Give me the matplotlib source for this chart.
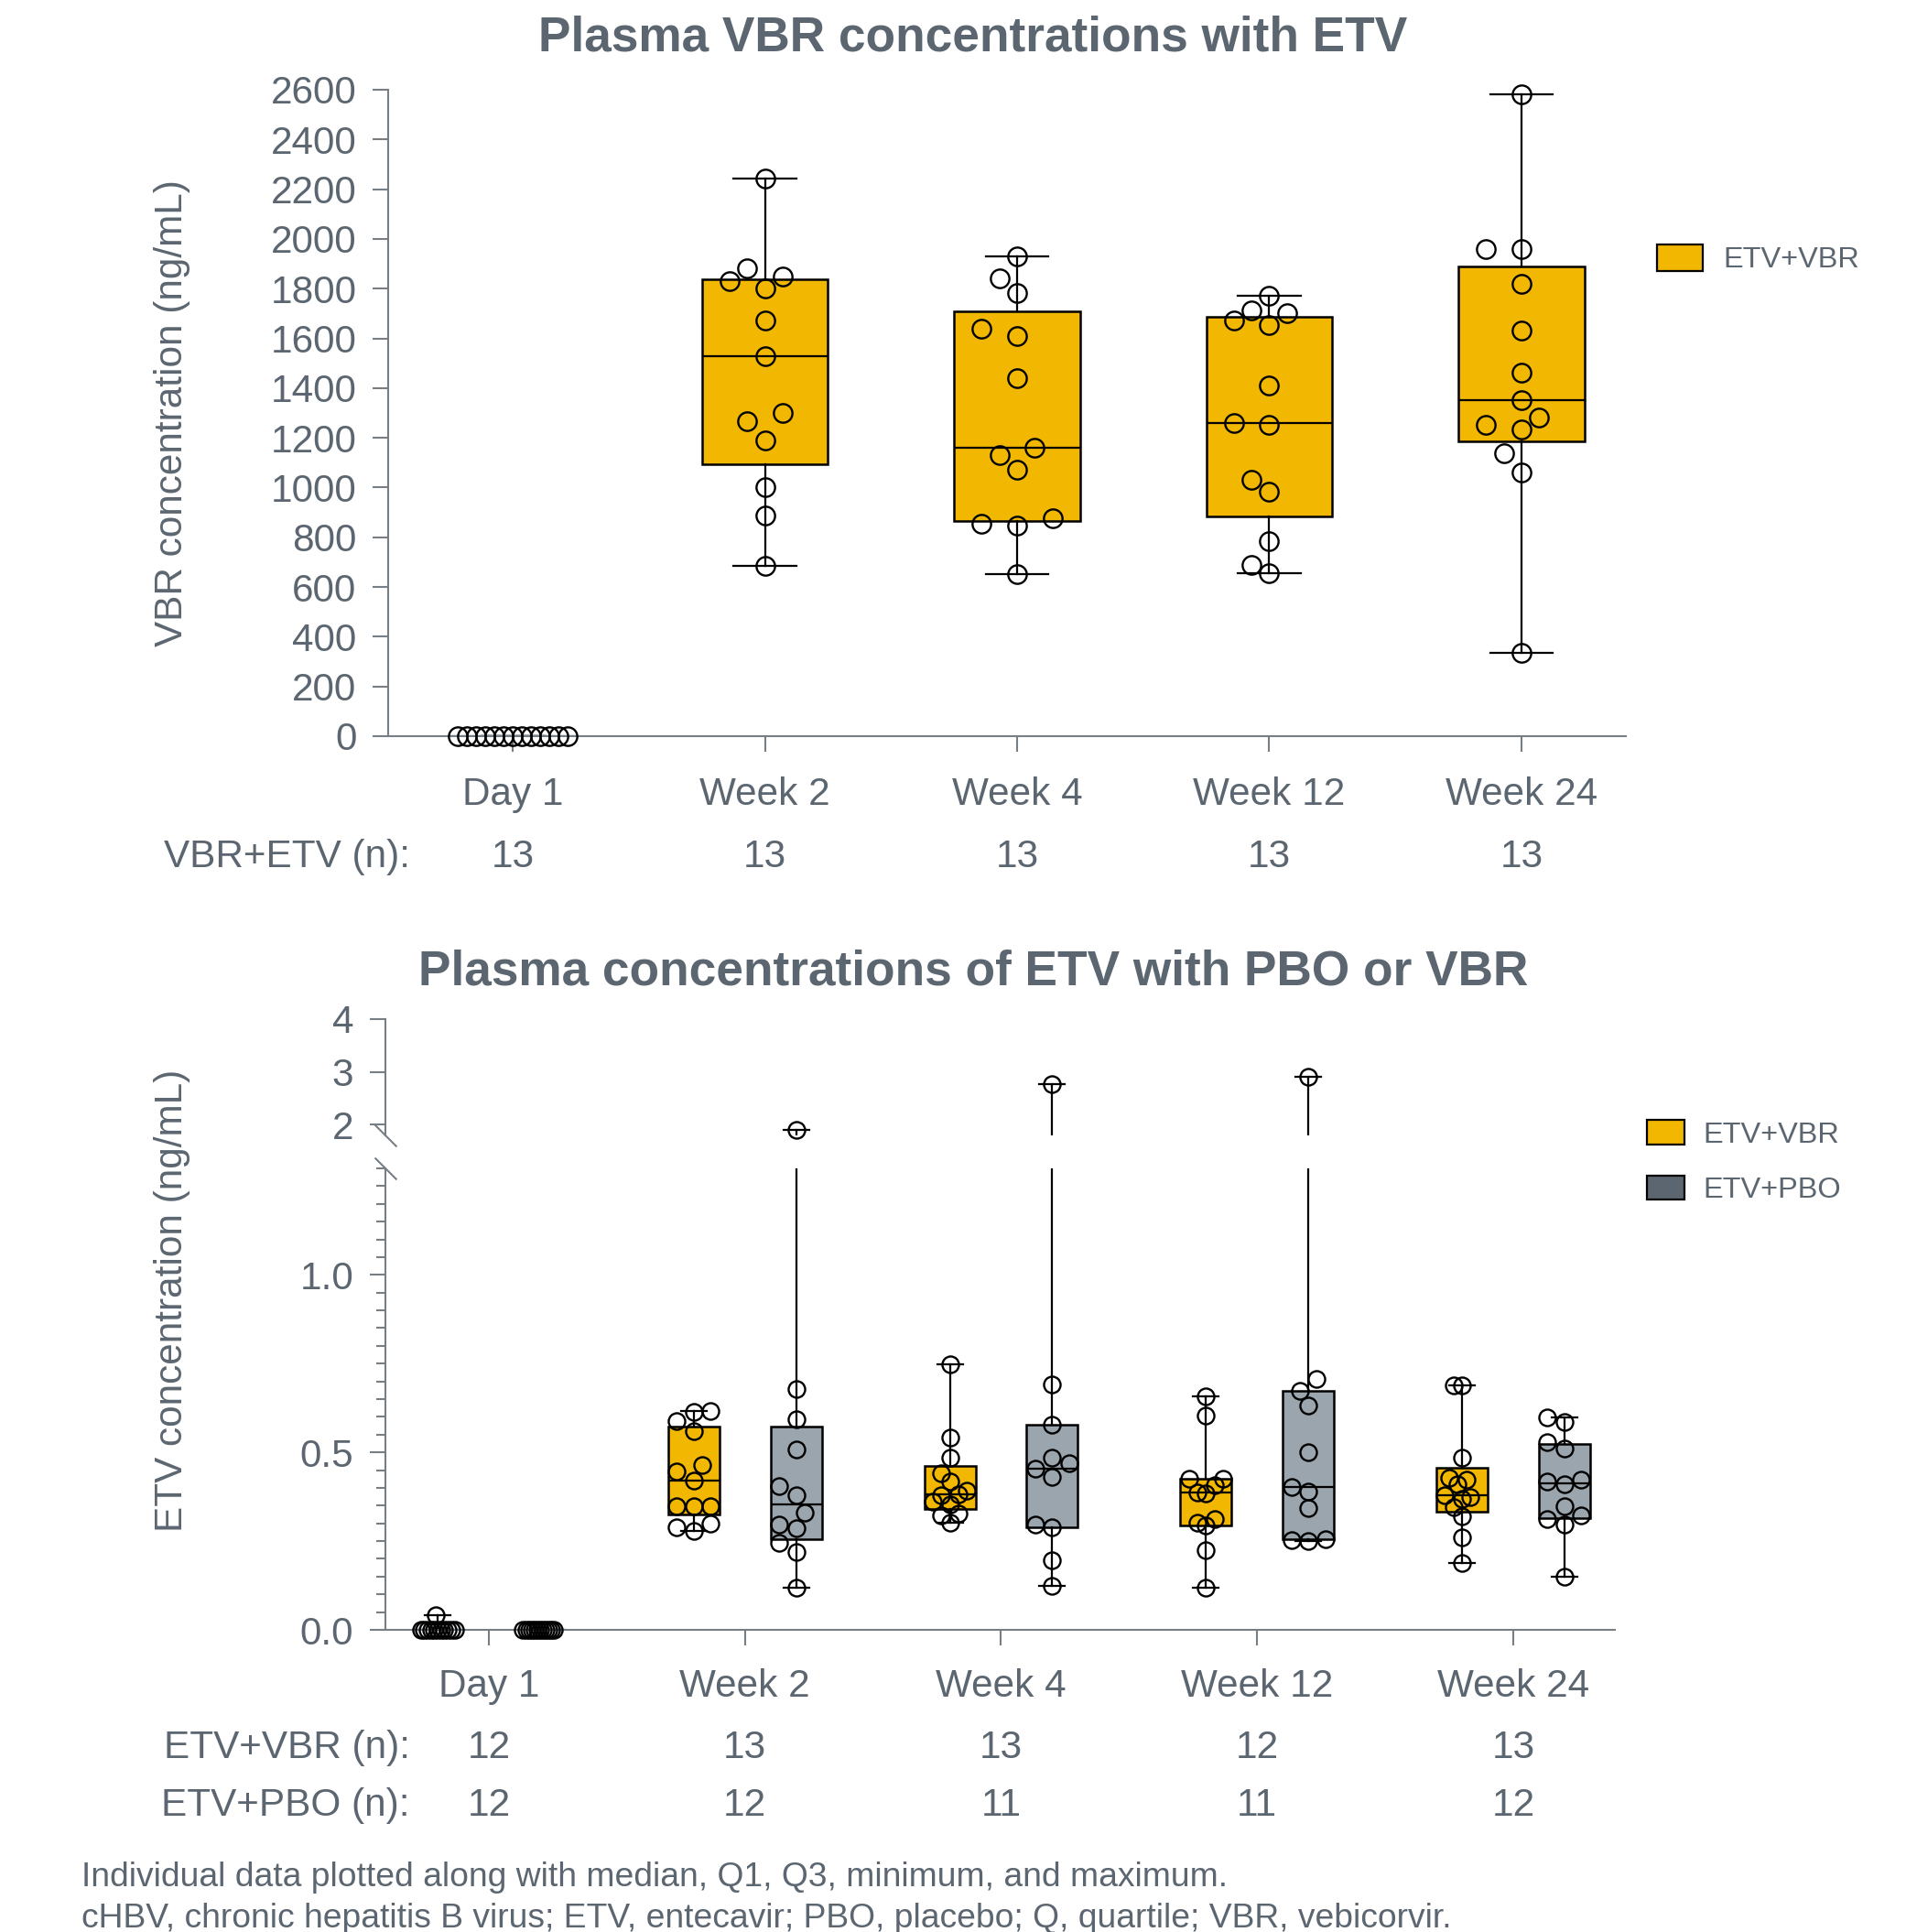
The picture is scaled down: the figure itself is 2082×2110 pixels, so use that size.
import numpy as np
import matplotlib.pyplot as plt
from matplotlib.patches import Rectangle
from matplotlib.ticker import MultipleLocator
from matplotlib.transforms import blended_transform_factory

plt.rcParams['font.family'] = ['Liberation Sans', 'DejaVu Sans']

TEXT = '#5b6670'
SPINE = '#767e86'
GOLD = '#f2b700'
GREY_BOX = '#9aa5ae'
GREY_KEY = '#5c6670'

visits = ['Day 1', 'Week 2', 'Week 4', 'Week 12', 'Week 24']

# plasma VBR (ng/mL), ETV+VBR arm
vbr_day1 = [0, 0, 0, 0, 0, 0, 0, 0, 0, 0, 0, 0, 0]
vbr_wk2 = [2241, 1882, 1849, 1830, 1800, 1671, 1530, 1299, 1268, 1189, 1000, 888, 686]
vbr_wk4 = [1931, 1841, 1781, 1640, 1611, 1441, 1161, 1131, 1072, 876, 854, 848, 651]
vbr_wk12 = [1772, 1713, 1702, 1671, 1652, 1412, 1261, 1253, 1033, 983, 786, 690, 655]
vbr_wk24 = [2582, 1960, 1960, 1821, 1632, 1463, 1353, 1282, 1251, 1233, 1139, 1062, 334]

# plasma ETV (ng/mL)
etv_vbr_day1 = [0.04, 0, 0, 0, 0, 0, 0, 0, 0, 0, 0, 0]
etv_vbr_wk2 = [0.617, 0.615, 0.588, 0.559, 0.464, 0.445, 0.420, 0.348, 0.348, 0.348, 0.300, 0.289, 0.278]
etv_vbr_wk4 = [0.748, 0.542, 0.484, 0.441, 0.417, 0.391, 0.383, 0.379, 0.361, 0.354, 0.327, 0.323, 0.303]
etv_vbr_wk12 = [0.659, 0.604, 0.426, 0.426, 0.407, 0.387, 0.385, 0.312, 0.301, 0.293, 0.224, 0.118]
etv_vbr_wk24 = [0.689, 0.688, 0.484, 0.428, 0.424, 0.410, 0.379, 0.373, 0.368, 0.346, 0.320, 0.260, 0.189]

etv_pbo_day1 = [0, 0, 0, 0, 0, 0, 0, 0, 0, 0, 0, 0]
etv_pbo_wk2 = [1.905, 0.678, 0.593, 0.507, 0.404, 0.379, 0.330, 0.297, 0.286, 0.244, 0.220, 0.119]
etv_pbo_wk4 = [2.765, 0.692, 0.579, 0.486, 0.470, 0.453, 0.432, 0.297, 0.288, 0.196, 0.123]
etv_pbo_wk12 = [2.916, 0.707, 0.674, 0.632, 0.501, 0.403, 0.390, 0.342, 0.256, 0.254, 0.250]
etv_pbo_wk24 = [0.598, 0.585, 0.529, 0.512, 0.423, 0.417, 0.410, 0.347, 0.323, 0.312, 0.297, 0.149]

vbr_groups = [vbr_day1, vbr_wk2, vbr_wk4, vbr_wk12, vbr_wk24]
etv_vbr_groups = [etv_vbr_day1, etv_vbr_wk2, etv_vbr_wk4, etv_vbr_wk12, etv_vbr_wk24]
etv_pbo_groups = [etv_pbo_day1, etv_pbo_wk2, etv_pbo_wk4, etv_pbo_wk12, etv_pbo_wk24]

W, H = 2082, 2110
DPI = 200
fig = plt.figure(figsize=(W / DPI, H / DPI), dpi=DPI)


def fx(x):
    return x / W


def fy(y):
    return 1 - y / H


def axes_at(x0, y_top, x1, y_bot):
    return fig.add_axes([fx(x0), fy(y_bot), (x1 - x0) / W, (y_bot - y_top) / H])


def box_stats(vals):
    v = np.asarray(vals, float)
    q1, med, q3 = np.percentile(v, [25, 50, 75], method='weibull')
    return dict(med=med, q1=q1, q3=q3, whislo=v.min(), whishi=v.max(), fliers=[])


def swarm(y_px, diam, step, limit_px):
    # greedy beeswarm in pixel space, squeezed if it gets too wide
    y_px = np.asarray(y_px, float)
    cands = [0.0]
    for k in range(1, 40):
        cands += [-k * step, k * step]
    placed = []
    offs = np.zeros(len(y_px))
    for i in np.argsort(y_px):
        y = y_px[i]
        for c in cands:
            if all((c - px) ** 2 + (y - py) ** 2 >= diam ** 2 for px, py in placed):
                break
        offs[i] = c
        placed.append((c, y))
    m = np.abs(offs).max()
    if m > limit_px:
        offs *= limit_px / m
    return offs


def px_per_unit(ax):
    return ax.transData.transform((1, 0))[0] - ax.transData.transform((0, 0))[0]


def style(ax):
    for s in ['top', 'right']:
        ax.spines[s].set_visible(False)
    for s in ['left', 'bottom']:
        ax.spines[s].set_color(SPINE)
        ax.spines[s].set_linewidth(0.75)
    ax.tick_params(colors=SPINE, labelcolor=TEXT, labelsize=15.2, width=0.75, length=6)
    ax.tick_params(axis='y', pad=6.5)


box_kw = dict(patch_artist=True, showfliers=False, manage_ticks=False, zorder=2,
              whiskerprops=dict(color='k', lw=0.8), capprops=dict(color='k', lw=0.8),
              medianprops=dict(color='k', lw=0.8))
pt_kw = dict(ls='none', marker='o', mfc='none', mec='k', mew=0.85, clip_on=False, zorder=3)

# ---------------- top panel: VBR ----------------
ax = axes_at(424, 98, 1776, 804)
ax.set_xlim(-0.494, 4.414)
ax.set_ylim(0, 2600)
style(ax)
ax.set_yticks(range(0, 2601, 200))
ax.set_xticks(range(len(visits)))
ax.set_xticklabels(visits)
ax.tick_params(axis='x', pad=10)

ax.bxp([box_stats(v) for v in vbr_groups], positions=range(5), widths=0.5, capwidths=0.25,
       boxprops=dict(facecolor=GOLD, edgecolor='k', lw=0.9), **box_kw)

ppu = px_per_unit(ax)
for i, vals in enumerate(vbr_groups):
    v = np.asarray(vals, float)
    ypx = ax.transData.transform(np.column_stack([np.zeros_like(v), v]))[:, 1]
    offs = swarm(ypx, 21.5, 19.4, 60) / ppu
    ax.plot(i + offs, v, ms=7.3, **pt_kw)

fig.text(fx(1063), fy(55), 'Plasma VBR concentrations with ETV', ha='center', va='baseline',
         fontsize=19.2, fontweight='bold', color=TEXT)
fig.text(fx(188), fy(451), 'VBR concentration (ng/mL)', rotation=90, ha='center', va='center',
         fontsize=15.2, color=TEXT)

tr = blended_transform_factory(ax.transData, fig.transFigure)
fig.text(fx(448), fy(947), 'VBR+ETV (n):', ha='right', va='baseline', fontsize=15.2, color=TEXT)
for i, vals in enumerate(vbr_groups):
    ax.text(i, fy(947), str(len(vals)), transform=tr, ha='center', va='baseline',
            fontsize=15.2, color=TEXT)

fig.add_artist(Rectangle((fx(1810), fy(296)), 50 / W, 29 / H, transform=fig.transFigure,
                         facecolor=GOLD, edgecolor='k', lw=0.8))
fig.text(fx(1882), fy(292), 'ETV+VBR', ha='left', va='baseline', fontsize=11.7, color=TEXT)

# ---------------- bottom panel: ETV, broken y axis ----------------
ax_hi = axes_at(421, 1113, 1764, 1240)
ax_lo = axes_at(421, 1276, 1764, 1780)
for a in (ax_hi, ax_lo):
    a.set_xlim(-0.404, 4.397)
    style(a)
ax_hi.set_ylim(1.8, 4)
ax_lo.set_ylim(0, 1.3)
ax_hi.spines['bottom'].set_visible(False)
ax_hi.tick_params(axis='x', bottom=False, labelbottom=False)
ax_hi.set_yticks([2, 3, 4])
ax_lo.set_yticks([0, 0.5, 1.0])
ax_lo.set_yticklabels(['0.0', '0.5', '1.0'])
ax_lo.yaxis.set_minor_locator(MultipleLocator(0.05))
ax_lo.tick_params(axis='y', which='minor', length=3.6, width=0.75, colors=SPINE)
ax_lo.set_xticks(range(len(visits)))
ax_lo.set_xticklabels(visits)
ax_lo.tick_params(axis='x', pad=9)

# diagonal break marks on the y axis
brk = dict(marker=[(-1, 1), (1, -1)], ms=8.6, mec=SPINE, mew=0.75, ls='none', clip_on=False)
ax_hi.plot([0], [0], transform=ax_hi.transAxes, **brk)
ax_lo.plot([0], [1], transform=ax_lo.transAxes, **brk)

CUT = 1.3


def y_px_bottom(v):
    return np.array([(ax_lo if y <= CUT else ax_hi).transData.transform((0, y))[1] for y in v])


ppu = px_per_unit(ax_lo)
for groups, shift, color in [(etv_vbr_groups, -0.2, GOLD), (etv_pbo_groups, 0.2, GREY_BOX)]:
    pos = np.arange(len(visits)) + shift
    for a in (ax_hi, ax_lo):
        a.bxp([box_stats(v) for v in groups], positions=pos, widths=0.2, capwidths=0.1,
              boxprops=dict(facecolor=color, edgecolor='k', lw=0.9), **box_kw)
    for i, vals in enumerate(groups):
        v = np.asarray(vals, float)
        offs = swarm(y_px_bottom(v), 18.0, 9.35, 18.5) / ppu
        xs = pos[i] + offs
        low = v <= CUT
        ax_lo.plot(xs[low], v[low], ms=6.5, **pt_kw)
        if (~low).any():
            ax_hi.plot(xs[~low], v[~low], ms=6.5, **pt_kw)

fig.text(fx(1063), fy(1075), 'Plasma concentrations of ETV with PBO or VBR', ha='center',
         va='baseline', fontsize=19.2, fontweight='bold', color=TEXT)
fig.text(fx(188), fy(1420), 'ETV concentration (ng/mL)', rotation=90, ha='center', va='center',
         fontsize=15.2, color=TEXT)

tr = blended_transform_factory(ax_lo.transData, fig.transFigure)
for label, groups, ybase in [('ETV+VBR (n):', etv_vbr_groups, 1920),
                             ('ETV+PBO (n):', etv_pbo_groups, 1983)]:
    fig.text(fx(448), fy(ybase), label, ha='right', va='baseline', fontsize=15.2, color=TEXT)
    for i, vals in enumerate(groups):
        ax_lo.text(i, fy(ybase), str(len(vals)), transform=tr, ha='center', va='baseline',
                   fontsize=15.2, color=TEXT)

for (y0, y1), color, label in [((1223, 1250), GOLD, 'ETV+VBR'), ((1284, 1310), GREY_KEY, 'ETV+PBO')]:
    fig.add_artist(Rectangle((fx(1799), fy(y1)), 41 / W, (y1 - y0) / H, transform=fig.transFigure,
                             facecolor=color, edgecolor='k', lw=0.8))
    fig.text(fx(1860), fy((y0 + y1) / 2 + 11), label, ha='left', va='baseline', fontsize=11.7,
             color=TEXT)

fig.text(fx(89), fy(2060), 'Individual data plotted along with median, Q1, Q3, minimum, and maximum.',
         ha='left', va='baseline', fontsize=13.4, color=TEXT)
fig.text(fx(89), fy(2105),
         'cHBV, chronic hepatitis B virus; ETV, entecavir; PBO, placebo; Q, quartile; VBR, vebicorvir.',
         ha='left', va='baseline', fontsize=13.4, color=TEXT)

fig.savefig('out.png', dpi=DPI)
